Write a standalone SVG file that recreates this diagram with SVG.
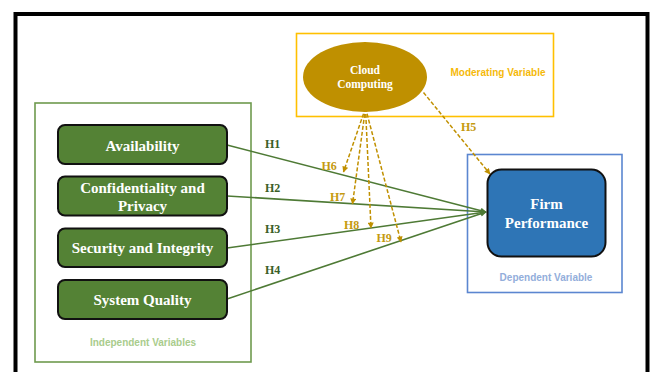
<svg xmlns="http://www.w3.org/2000/svg" width="651" height="372" viewBox="0 0 651 372">
<defs>
<style>
.node{fill:#548235;stroke:#111;stroke-width:2}
.nt{font-family:"Liberation Serif",serif;font-weight:bold;font-size:15px;fill:#fff;text-anchor:middle}
.hg{font-family:"Liberation Serif",serif;font-weight:bold;font-size:12px;fill:#3A5F27}
.hy{font-family:"Liberation Serif",serif;font-weight:bold;font-size:12px;fill:#C59A10}
.cap{font-family:"Liberation Sans",sans-serif;font-weight:bold;font-size:10px;text-anchor:middle}
.gl{stroke:#4E7A35;stroke-width:1.6;fill:none;marker-end:url(#ag)}
.dl{stroke:#C09000;stroke-width:1.5;fill:none;stroke-dasharray:4 2;marker-end:url(#ay)}
</style>
<marker id="ag" viewBox="0 0 10 10" refX="9" refY="5" markerWidth="8" markerHeight="6" markerUnits="userSpaceOnUse" orient="auto"><path d="M0,0L10,5L0,10z" fill="#4E7A35"/></marker>
<marker id="ay" viewBox="0 0 10 10" refX="9" refY="5" markerWidth="7" markerHeight="6" markerUnits="userSpaceOnUse" orient="auto"><path d="M0,0L10,5L0,10z" fill="#C09000"/></marker>
<marker id="ays" viewBox="0 0 10 10" refX="1" refY="5" markerWidth="7" markerHeight="6" markerUnits="userSpaceOnUse" orient="auto-start-reverse"><path d="M0,0L10,5L0,10z" fill="#C09000"/></marker>
</defs>
<rect x="0" y="0" width="651" height="372" fill="#fff"/>
<rect x="15.5" y="14" width="632" height="380" fill="none" stroke="#000" stroke-width="4"/>

<g id="moderating-frame">
<rect x="296.5" y="33.5" width="257" height="83" fill="none" stroke="#FFC000" stroke-width="1.6"/>
<text class="cap" x="498" y="76" fill="#F5B90A" font-size="10.5">Moderating Variable</text>
</g>
<g id="independent-frame">
<rect x="35" y="103" width="216" height="259" fill="none" stroke="#6E9A4E" stroke-width="1.6"/>
<text class="cap" x="143" y="346" fill="#A9CC8C">Independent Variables</text>
</g>
<g id="dependent-frame">
<rect x="467.5" y="154.5" width="154.5" height="138" fill="none" stroke="#5B86D0" stroke-width="1.6"/>
<text class="cap" x="546" y="280.5" fill="#93AEDB">Dependent Variable</text>
</g>

<g id="connectors">
<line class="gl" x1="227" y1="145" x2="486" y2="212"/>
<line class="gl" x1="227" y1="196" x2="486" y2="212"/>
<line class="gl" x1="227" y1="248" x2="486" y2="212"/>
<line class="gl" x1="227" y1="299" x2="486" y2="212"/>
<line class="dl" x1="423.5" y1="92.5" x2="490" y2="174"/>
<line class="dl" x1="365.5" y1="108" x2="343.5" y2="172" style="marker-start:url(#ays)"/>
<line class="dl" x1="365.5" y1="108" x2="352.5" y2="204"/>
<line class="dl" x1="365.5" y1="108" x2="371" y2="228"/>
<line class="dl" x1="365.5" y1="108" x2="401" y2="242"/>
<text class="hg" x="265" y="147.5">H1</text>
<text class="hg" x="265" y="192">H2</text>
<text class="hg" x="265" y="232.5">H3</text>
<text class="hg" x="265" y="273.5">H4</text>
<text class="hy" x="461" y="131">H5</text>
<text class="hy" x="321.5" y="169.5">H6</text>
<text class="hy" x="330" y="201">H7</text>
<text class="hy" x="344" y="228.5">H8</text>
<text class="hy" x="376.5" y="242">H9</text>
</g>

<g id="cloud">
<ellipse cx="365" cy="77" rx="62" ry="35" fill="#BF9000"/>
<text x="365" y="74" font-family="Liberation Serif,serif" font-weight="bold" font-size="11.5" fill="#fff" text-anchor="middle">Cloud</text>
<text x="365" y="88" font-family="Liberation Serif,serif" font-weight="bold" font-size="11.5" fill="#fff" text-anchor="middle">Computing</text>
</g>

<g id="availability">
<rect class="node" x="58" y="125" width="169" height="39" rx="7"/>
<text class="nt" x="142.5" y="150.5">Availability</text>
</g>
<g id="confidentiality">
<rect class="node" x="58" y="176.5" width="169" height="39" rx="7"/>
<text class="nt" x="142.5" y="192.5">Confidentiality and</text>
<text class="nt" x="142.5" y="211">Privacy</text>
</g>
<g id="security">
<rect class="node" x="58" y="228.5" width="169" height="38.5" rx="7"/>
<text class="nt" x="142.5" y="253">Security and Integrity</text>
</g>
<g id="system-quality">
<rect class="node" x="58" y="280" width="169" height="39" rx="7"/>
<text class="nt" x="142.5" y="305">System Quality</text>
</g>
<g id="firm-performance">
<rect x="487.5" y="169.5" width="118" height="87" rx="14" fill="#2E75B6" stroke="#111" stroke-width="2"/>
<text class="nt" x="546.5" y="209">Firm</text>
<text class="nt" x="546.5" y="228">Performance</text>
</g>
</svg>
